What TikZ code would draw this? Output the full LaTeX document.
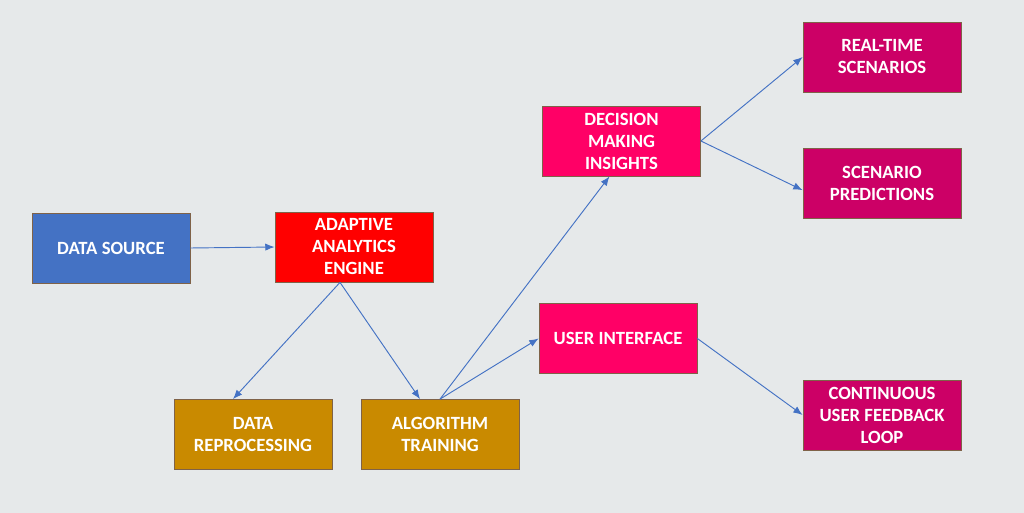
\documentclass[tikz,border=0pt]{standalone}
\usepackage{fontspec}
\setmainfont{Carlito}
\usepackage{xcolor}
\usepackage{tikz}
\usetikzlibrary{positioning, arrows.meta}

\definecolor{bgray}{HTML}{E6E9EA}
\definecolor{srcblue}{HTML}{4472C4}
\definecolor{engred}{HTML}{FF0000}
\definecolor{procgold}{HTML}{C98A00}
\definecolor{outpink}{HTML}{FF0066}
\definecolor{resmag}{HTML}{CC0066}
\definecolor{edgebrown}{HTML}{7F6248}

\newcommand\tightsp{\spaceskip=0.23em\relax}

\begin{document}
\begin{tikzpicture}[x=0.75pt, y=-0.75pt,
    box/.style={draw=edgebrown, line width=0.6pt, minimum width=118.5pt, minimum height=52.5pt,
                text width=110pt, align=center, text=white, inner sep=0pt,
                font=\fontsize{14}{16.5}\selectfont\bfseries, execute at begin node=\tightsp},
    link/.style={draw=srcblue, line width=0.7pt, -{Latex[length=7pt,width=5.5pt]}}]
  % Background
  \fill[bgray] (0,0) rectangle (1024,513);
  \useasboundingbox (0,0) rectangle (1024,513);
  % Input and engine
  \node[box, fill=srcblue] (source) at (111,248) {DATA SOURCE};
  \node[box, fill=engred] (engine) at (354,247) {ADAPTIVE\\ANALYTICS\\ENGINE};
  % Processing
  \node[box, fill=procgold] (reproc) at (253,434.5) {DATA\\REPROCESSING};
  \node[box, fill=procgold] (training) at (440,434.5) {ALGORITHM\\TRAINING};
  % Outputs
  \node[box, fill=outpink] (insights) at (621.5,141) {DECISION\\MAKING\\INSIGHTS};
  \node[box, fill=outpink] (ui) at (618,338.5) {USER INTERFACE};
  % Results
  \node[box, fill=resmag] (realtime) at (882,57) {REAL-TIME\\SCENARIOS};
  \node[box, fill=resmag] (predict) at (882,183.5) {SCENARIO\\PREDICTIONS};
  \node[box, fill=resmag] (feedback) at (882,415) {CONTINUOUS\\USER FEEDBACK\\LOOP};
  % Connectors
  \draw[link] (source.east) -- (engine.west);
  \draw[link] ([xshift=-10.5pt]engine.south) -- ([xshift=-15pt]reproc.north);
  \draw[link] ([xshift=-10.5pt]engine.south) -- ([xshift=-15pt]training.north);
  \draw[link] (training.north) -- ([xshift=-9pt]insights.south);
  \draw[link] (training.north) -- (ui.west);
  \draw[link] (insights.east) -- (realtime.west);
  \draw[link] (insights.east) -- ([yshift=-5pt]predict.west);
  \draw[link] (ui.east) -- (feedback.west);
\end{tikzpicture}
\end{document}
